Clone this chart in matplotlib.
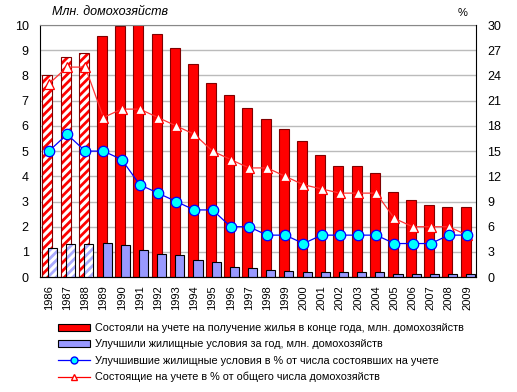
import matplotlib
matplotlib.use("Agg")
import matplotlib.pyplot as plt
import numpy as np
from matplotlib.patches import Patch
from matplotlib.lines import Line2D

plt.rcParams['font.family'] = ['Liberation Sans', 'DejaVu Sans']
plt.rcParams['hatch.linewidth'] = 2.0

years = [str(y) for y in range(1986, 2010)]
on_queue = [8.02, 8.72, 8.88, 9.56, 9.96, 10.0, 9.64, 9.08, 8.45, 7.70, 7.21, 6.73,
            6.27, 5.86, 5.40, 4.84, 4.39, 4.39, 4.15, 3.36, 3.08, 2.88, 2.80, 2.80]
improved = [1.14, 1.30, 1.30, 1.34, 1.26, 1.06, 0.90, 0.86, 0.70, 0.62, 0.42, 0.38,
            0.30, 0.23, 0.19, 0.19, 0.19, 0.19, 0.19, 0.11, 0.11, 0.11, 0.11, 0.11]
improved_pct = [15, 17, 15, 15, 14, 11, 10, 9, 8, 8, 6, 6,
                5, 5, 4, 5, 5, 5, 5, 4, 4, 4, 5, 5]
queue_pct = [23, 25, 25, 19, 20, 20, 19, 18, 17, 15, 14, 13,
             13, 12, 11, 10.5, 10, 10, 10, 7, 6, 6, 6, 5]
hatched_n = 3

fig = plt.figure(figsize=(5.17, 3.92), dpi=100)
ax = fig.add_axes([0.077, 0.293, 0.844, 0.643])
x = np.arange(len(years))

red_w, blue_w = 0.55, 0.5
for i in range(len(years)):
    if i < hatched_n:
        ax.bar(x[i] - 0.08, on_queue[i], width=red_w, facecolor='white', edgecolor='#FF0000',
               hatch='////', linewidth=0, zorder=2)
        ax.bar(x[i] - 0.08, on_queue[i], width=red_w, facecolor='none', edgecolor='#800000',
               linewidth=0.8, zorder=2.1)
        ax.bar(x[i] + 0.2, improved[i], width=blue_w, facecolor='white', edgecolor='#AAAAFF',
               hatch='////', linewidth=0, zorder=3)
        ax.bar(x[i] + 0.2, improved[i], width=blue_w, facecolor='none', edgecolor='black',
               linewidth=0.8, zorder=3.1)
    else:
        ax.bar(x[i] - 0.08, on_queue[i], width=red_w, facecolor='#FF0000', edgecolor='#800000',
               linewidth=0.8, zorder=2)
        ax.bar(x[i] + 0.2, improved[i], width=blue_w, facecolor='#9999FF', edgecolor='black',
               linewidth=0.8, zorder=3)

ax.set_xlim(-0.5, len(years) - 0.5)
ax.set_ylim(0, 10)
ax.set_yticks(range(0, 11))
ax.yaxis.grid(True, color='#BBBBBB', linewidth=1)
ax.set_axisbelow(True)
ax.set_xticks(x)
ax.set_xticklabels(years, rotation=90, fontsize=8)
ax.tick_params(axis='x', length=0, pad=6)
ax.tick_params(axis='y', length=0, labelsize=9, pad=8)
ax.spines['top'].set_color('#888888')
ax.spines['right'].set_visible(False)

ax2 = ax.twinx()
ax2.set_ylim(0, 30)
ax2.set_yticks(range(0, 31, 3))
ax2.tick_params(axis='y', length=0, labelsize=9, pad=8)
ax2.spines['top'].set_visible(False)
ax2.spines['left'].set_visible(False)
ax2.spines['right'].set_color('black')
ax2.plot(x, queue_pct, color='#FF3333', linewidth=0.9, marker='^', markersize=7,
         markerfacecolor='white', markeredgecolor='#FF0000', markeredgewidth=0.9, zorder=4)
ax2.plot(x, improved_pct, color='#0000FF', linewidth=0.9, marker='o', markersize=7.5,
         markerfacecolor='#00FFFF', markeredgecolor='#0000FF', markeredgewidth=0.9, zorder=5)

fig.text(0.1, 0.955, 'Млн. домохозяйств', fontsize=9, style='italic', ha='left', va='bottom')
fig.text(0.886, 0.955, '%', fontsize=8, ha='left', va='bottom')

handles = [
    Patch(facecolor='#FF0000', edgecolor='black', linewidth=0.8),
    Patch(facecolor='#9999FF', edgecolor='black', linewidth=0.8),
    Line2D([], [], color='#0000FF', linewidth=0.9, marker='o', markersize=5,
           markerfacecolor='#00FFFF', markeredgecolor='#0000FF'),
    Line2D([], [], color='#FF0000', linewidth=0.9, marker='^', markersize=5,
           markerfacecolor='white', markeredgecolor='#FF0000'),
]
labels = [
    'Состояли на учете на получение жилья в конце года, млн. домохозяйств',
    'Улучшили жилищные условия за год, млн. домохозяйств',
    'Улучшившие жилищные условия в % от числа состоявших на учете',
    'Состоящие на учете в % от общего числа домохозяйств',
]
fig.legend(handles, labels, loc='upper left', bbox_to_anchor=(0.112, 0.176), frameon=False,
           fontsize=7.8, handlelength=3.0, handleheight=0.6, labelspacing=0.58,
           handletextpad=0.4, borderaxespad=0, borderpad=0)

fig.savefig('out.png', dpi=100)
